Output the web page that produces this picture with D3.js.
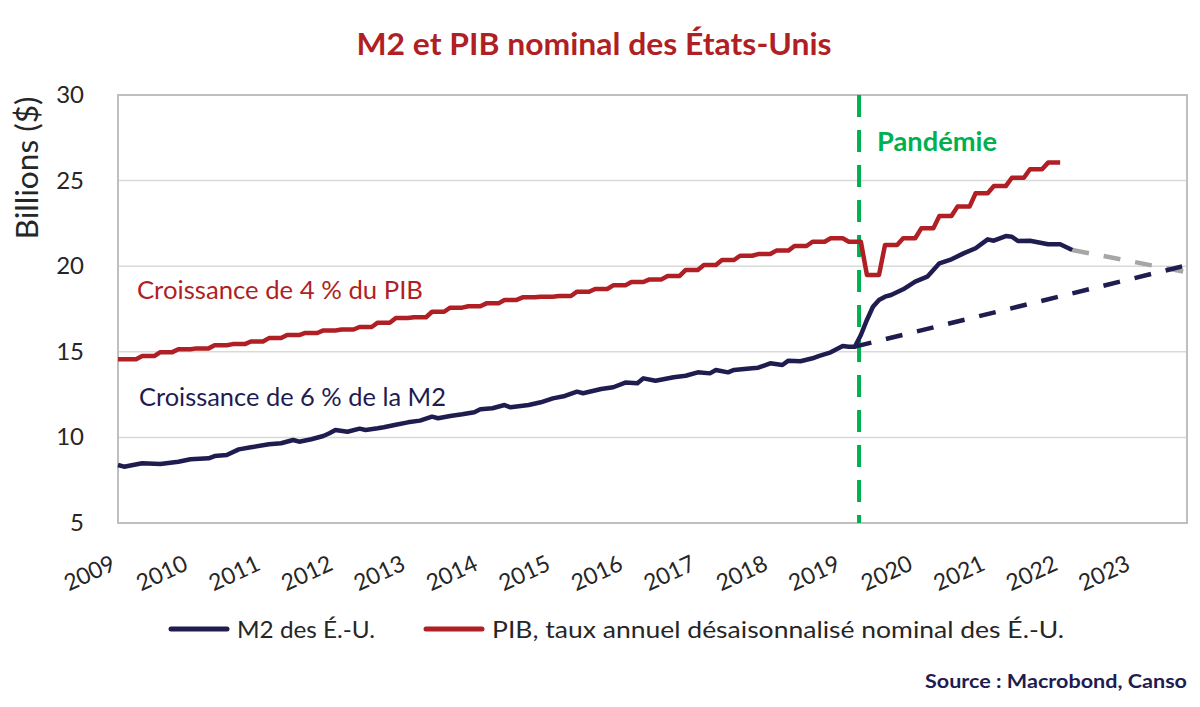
<!DOCTYPE HTML>
<html>
<head>
<meta charset="utf-8">
<title>M2 et PIB nominal des États-Unis</title>
<style>
body { margin: 0; background: #fff; }
svg { font-family: Lato, "Open Sans", sans-serif; }
.grid line { stroke: #d9d9d9; stroke-width: 1.5px; }
.frame { fill: none; stroke: #bfbfbf; stroke-width: 2px; }
.tick-y { font-size: 24px; fill: #262626; }
.tick-x { font-size: 23px; fill: #262626; }
</style>
</head>
<body>
<script src="https://cdnjs.cloudflare.com/ajax/libs/d3/7.8.5/d3.min.js"></script>
<script>
// months counted from the first point of the chart
var years = [2009, 2010, 2011, 2012, 2013, 2014, 2015, 2016, 2017, 2018, 2019, 2020, 2021, 2022, 2023];
var yTicks = [5, 10, 15, 20, 25, 30];

var m2Months = [0, 1, 4, 7, 10, 12, 15, 16, 18, 20, 22, 25, 27, 29, 30, 32, 34, 35, 36, 38,
  40, 41, 43, 44, 46, 48, 50, 52, 53, 55, 57, 59, 60, 62, 64, 65, 68, 70, 72, 74,
  76, 77, 80, 82, 84, 86, 87, 89, 92, 94, 96, 98, 99, 101, 102, 105, 106, 108, 110, 111,
  113, 115, 116, 118, 120, 121, 122, 123, 124, 125, 126, 127, 128, 130, 132, 134, 136, 138, 140, 142,
  144, 145, 147, 148, 149, 151, 154, 156, 158];
var m2Values = [8.39, 8.29, 8.49, 8.45, 8.58, 8.72, 8.78, 8.91, 8.97, 9.30, 9.42, 9.60, 9.66, 9.85, 9.75, 9.89, 10.08, 10.24, 10.43, 10.33,
  10.51, 10.43, 10.53, 10.59, 10.74, 10.88, 10.98, 11.21, 11.12, 11.25, 11.35, 11.47, 11.64, 11.70, 11.89, 11.76, 11.89, 12.05, 12.28, 12.42,
  12.67, 12.58, 12.83, 12.93, 13.20, 13.16, 13.45, 13.31, 13.51, 13.60, 13.80, 13.74, 13.94, 13.80, 13.94, 14.04, 14.07, 14.33, 14.23, 14.48,
  14.45, 14.62, 14.75, 14.97, 15.34, 15.30, 15.30, 15.98, 16.86, 17.63, 18.03, 18.22, 18.32, 18.65, 19.10, 19.39, 20.17, 20.40, 20.75, 21.05,
  21.57, 21.49, 21.76, 21.72, 21.47, 21.49, 21.28, 21.28, 20.95];

// quarterly GDP, each quarter held for three months
var gdpQuarters = [14.57, 14.75, 14.98, 15.15, 15.20, 15.38, 15.45, 15.60, 15.80, 15.98,
  16.10, 16.25, 16.30, 16.45, 16.70, 16.98, 17.02, 17.34, 17.58, 17.66,
  17.83, 18.03, 18.18, 18.22, 18.26, 18.51, 18.67, 18.88, 19.08, 19.23,
  19.43, 19.78, 20.07, 20.36, 20.61, 20.71, 20.91, 21.18, 21.43, 21.63,
  21.43, 19.49, 21.24, 21.63, 22.21, 22.93, 23.48, 24.26, 24.68, 25.17, 25.66, 26.05];

var trendM2Months = [122, 177.5], trendM2Values = [15.30, 20.1];
var trendRecentMonths = [158, 177], trendRecentValues = [20.95, 19.65];
var pandemicMonth = 122.7;

var width = 1200, height = 707;
var plotLeft = 118, plotRight = 1187, plotTop = 95, plotBottom = 523;
var navy = "#1f1c50", red = "#b01f24", green = "#00b050";

var svg = d3.select("body").append("svg")
    .attr("width", width)
    .attr("height", height);

var x = d3.scaleLinear().domain([0, 177]).range([plotLeft, plotRight]);
var y = d3.scaleLinear().domain([5, 30]).range([plotBottom, plotTop]);

// gridlines
svg.append("g").attr("class", "grid")
  .selectAll("line").data(yTicks.slice(1, -1))
  .enter().append("line")
    .attr("x1", plotLeft).attr("x2", plotRight)
    .attr("y1", function(d) { return y(d); })
    .attr("y2", function(d) { return y(d); });

svg.append("rect").attr("class", "frame")
    .attr("x", plotLeft).attr("y", plotTop)
    .attr("width", plotRight - plotLeft).attr("height", plotBottom - plotTop);

svg.selectAll(".tick-y").data(yTicks)
  .enter().append("text")
    .attr("class", "tick-y")
    .attr("x", 84)
    .attr("y", function(d) { return y(d) + 8; })
    .attr("text-anchor", "end")
    .text(function(d) { return d; });

svg.selectAll(".tick-x").data(years)
  .enter().append("text")
    .attr("class", "tick-x")
    .attr("text-anchor", "end")
    .attr("transform", function(d) { return "translate(" + (x((d - 2009) * 12) - 1) + ",569) rotate(-25)"; })
    .text(function(d) { return d; });

svg.append("text")
    .attr("transform", "translate(38,168) rotate(-90)")
    .attr("text-anchor", "middle")
    .attr("textLength", 143)
    .attr("lengthAdjust", "spacingAndGlyphs")
    .style("font-size", "30px")
    .style("fill", "#262626")
    .text("Billions ($)");

svg.append("text")
    .attr("x", 594).attr("y", 55)
    .attr("text-anchor", "middle")
    .attr("textLength", 475)
    .attr("lengthAdjust", "spacingAndGlyphs")
    .style("font-size", "31px")
    .style("font-weight", "bold")
    .style("fill", red)
    .text("M2 et PIB nominal des États-Unis");

// pandemic marker
svg.append("line")
    .attr("x1", x(pandemicMonth)).attr("x2", x(pandemicMonth))
    .attr("y1", plotTop).attr("y2", plotBottom)
    .style("stroke", green).style("stroke-width", 4)
    .style("stroke-dasharray", "22,13");

svg.append("text")
    .attr("x", 877).attr("y", 151)
    .attr("textLength", 120)
    .attr("lengthAdjust", "spacingAndGlyphs")
    .style("font-size", "27px")
    .style("font-weight", "bold")
    .style("fill", green)
    .text("Pandémie");

var line = d3.line()
    .x(function(d) { return x(d[0]); })
    .y(function(d) { return y(d[1]); });

// trend lines
svg.append("path")
    .attr("d", line(d3.zip(trendRecentMonths, trendRecentValues)))
    .style("fill", "none").style("stroke", "#a6a6a6").style("stroke-width", 4.5)
    .style("stroke-dasharray", "17,15");

svg.append("path")
    .attr("d", line(d3.zip(trendM2Months, trendM2Values)))
    .style("fill", "none").style("stroke", navy).style("stroke-width", 4.5)
    .style("stroke-dasharray", "17,15");

var gdpPoints = [];
gdpQuarters.forEach(function(v, q) {
  if (q === 0) gdpPoints.push([0, v]);
  for (var k = 1; k <= 3; k++) gdpPoints.push([3 * q + k, v]);
});

svg.append("path")
    .attr("d", line(gdpPoints))
    .style("fill", "none").style("stroke", red).style("stroke-width", 4.5)
    .style("stroke-linejoin", "round");

svg.append("path")
    .attr("d", line(d3.zip(m2Months, m2Values)))
    .style("fill", "none").style("stroke", navy).style("stroke-width", 4.5)
    .style("stroke-linejoin", "round");

// annotations
svg.append("text")
    .attr("x", 137).attr("y", 299)
    .attr("textLength", 286)
    .attr("lengthAdjust", "spacingAndGlyphs")
    .style("font-size", "25px").style("fill", red)
    .text("Croissance de 4 % du PIB");

svg.append("text")
    .attr("x", 139).attr("y", 406)
    .attr("textLength", 307)
    .attr("lengthAdjust", "spacingAndGlyphs")
    .style("font-size", "25px").style("fill", navy)
    .text("Croissance de 6 % de la M2");

// legend
var legend = [
  {label: "M2 des É.-U.", color: navy, x: 171, len: 138},
  {label: "PIB, taux annuel désaisonnalisé nominal des É.-U.", color: red, x: 426, len: 572}
];
var lg = svg.selectAll(".legend").data(legend)
  .enter().append("g")
    .attr("transform", function(d) { return "translate(" + d.x + ",629)"; });
lg.append("line")
    .attr("x1", 0).attr("x2", 56)
    .style("stroke", function(d) { return d.color; })
    .style("stroke-width", 5)
    .style("stroke-linecap", "round");
lg.append("text")
    .attr("x", 66).attr("y", 9)
    .attr("textLength", function(d) { return d.len; })
    .attr("lengthAdjust", "spacingAndGlyphs")
    .style("font-size", "24px").style("fill", "#262626")
    .text(function(d) { return d.label; });

svg.append("text")
    .attr("x", 1187).attr("y", 688)
    .attr("text-anchor", "end")
    .attr("textLength", 262)
    .attr("lengthAdjust", "spacingAndGlyphs")
    .style("font-size", "18px").style("font-weight", "bold")
    .style("fill", navy)
    .text("Source : Macrobond, Canso");
</script>
</body>
</html>
